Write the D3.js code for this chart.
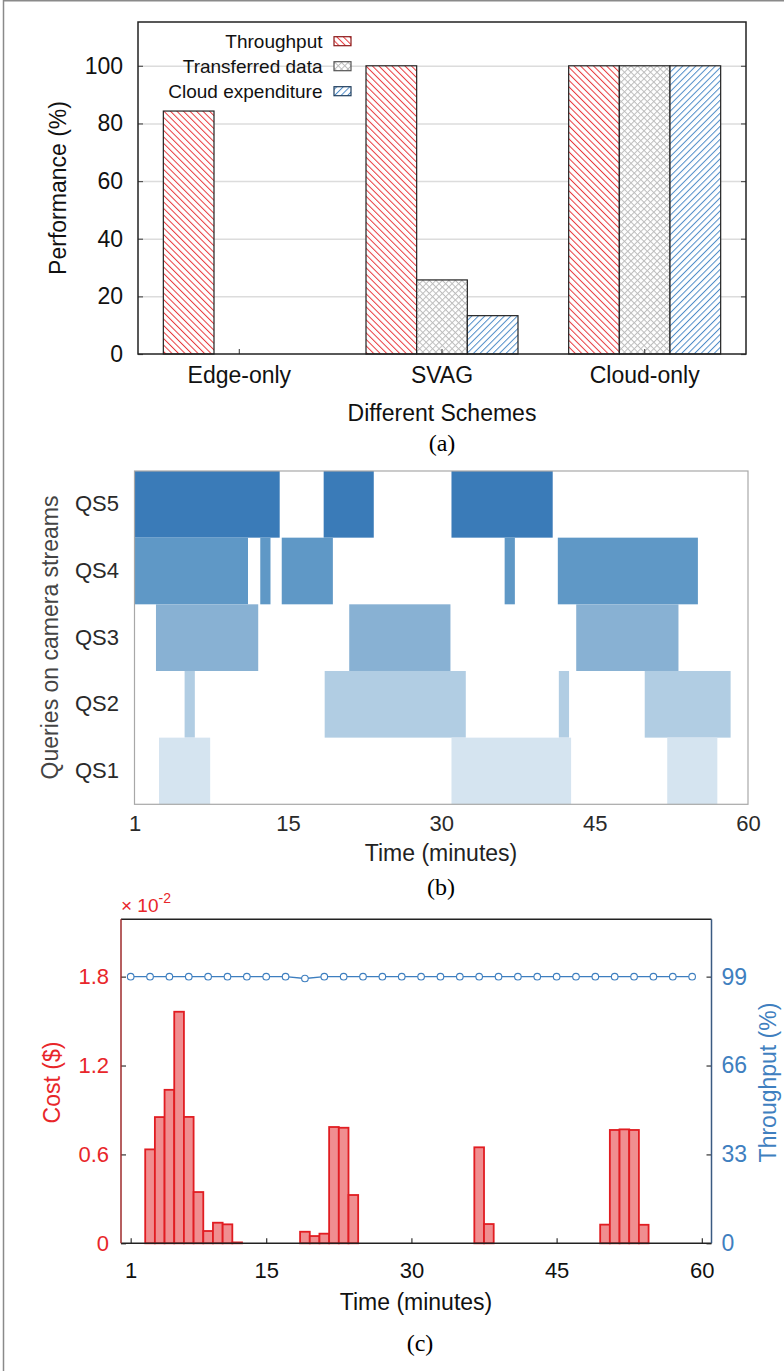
<!DOCTYPE html>
<html>
<head>
<meta charset="utf-8">
<script src="https://d3js.org/d3.v7.min.js"></script>
<style>
  html, body { margin: 0; padding: 0; background: #fff; }
  svg { display: block; font-family: "Liberation Sans", Arial, Helvetica, sans-serif; }
  .cap { font-family: "Liberation Serif", "Times New Roman", serif; }
</style>
</head>
<body>
<svg id="fig" width="784" height="1371"></svg>
<script>
// ---------- data (a) ----------
var schemes = ["Edge-only", "SVAG", "Cloud-only"];
var metrics = ["Throughput", "Transferred data", "Cloud expenditure"];
var throughputPct = [84.3, 100, 100];
var transferredPct = [0, 25.7, 100];
var cloudExpPct = [0, 13.3, 100];
var perfTicks = [0, 20, 40, 60, 80, 100];

// ---------- data (b) : active spans in minutes ----------
var queryRows = ["QS5", "QS4", "QS3", "QS2", "QS1"];
var qs5Spans = [[0, 14.2], [18.5, 23.4], [31, 40.9]];
var qs4Spans = [[0, 11.1], [12.3, 13.3], [14.4, 19.4], [36.2, 37.2], [41.4, 55.1]];
var qs3Spans = [[2.1, 12.1], [21, 30.9], [43.2, 53.2]];
var qs2Spans = [[4.9, 5.9], [18.6, 32.4], [41.5, 42.5], [49.9, 58.3]];
var qs1Spans = [[2.4, 7.4], [31, 42.7], [52.1, 57]];
var timeTickVals = [0, 15, 30, 45, 60];
var timeTickLabels = ["1", "15", "30", "45", "60"];

// ---------- data (c) ----------
var costMinutes = [3, 4, 5, 6, 7, 8, 9, 10, 11, 12, 19, 20, 21, 22, 23, 24, 37, 38, 50, 51, 52, 53, 54];
var costValues = [0.634, 0.852, 1.036, 1.563, 0.853, 0.346, 0.083, 0.139, 0.128, 0.006, 0.078, 0.049, 0.065, 0.785, 0.780, 0.326, 0.648, 0.130, 0.126, 0.765, 0.769, 0.765, 0.125];
var thrMinutes = [1, 3, 5, 7, 9, 11, 13, 15, 17, 19, 21, 23, 25, 27, 29, 31, 33, 35, 37, 39, 41, 43, 45, 47, 49, 51, 53, 55, 57, 59];
var thrValues = [99, 99, 99, 99, 99, 99, 99, 99, 99, 98.3, 99, 99, 99, 99, 99, 99, 99, 99, 99, 99, 99, 99, 99, 99, 99, 99, 99, 99, 99, 99];
var costTicks = [0, 0.6, 1.2, 1.8];
var thrTicks = [0, 33, 66, 99];
var minuteTicks = [1, 15, 30, 45, 60];

var svg = d3.select("#fig");
var RED = "#e8262a", BLUE = "#3f7fbf";

// figure border (left + top)
svg.append("line").attr("x1", 3.5).attr("x2", 3.5).attr("y1", 0).attr("y2", 1371).attr("stroke", "#8a8a8a").attr("stroke-width", 1.5);
svg.append("line").attr("x1", 3).attr("x2", 784).attr("y1", 0.75).attr("y2", 0.75).attr("stroke", "#8a8a8a").attr("stroke-width", 1.5);

// ---------- hatch patterns ----------
var defs = svg.append("defs");
function hatch(id, color, rot, cross) {
  var p = defs.append("pattern").attr("id", id).attr("patternUnits", "userSpaceOnUse")
    .attr("width", 4.6).attr("height", 4.6).attr("patternTransform", "rotate(" + rot + ")");
  p.append("rect").attr("width", 4.6).attr("height", 4.6).attr("fill", "#fff");
  p.append("line").attr("x1", 0.5).attr("x2", 0.5).attr("y1", 0).attr("y2", 4.6).attr("stroke", color).attr("stroke-width", 1);
  if (cross) p.append("line").attr("y1", 0.5).attr("y2", 0.5).attr("x1", 0).attr("x2", 4.6).attr("stroke", color).attr("stroke-width", 1);
}
hatch("hRed", "#e83a3e", -45, false);
hatch("hGray", "#bdbdbd", 45, true);
hatch("hBlue", "#4f8cc8", 45, false);
var fills = ["url(#hRed)", "url(#hGray)", "url(#hBlue)"];
var legendStroke = ["#8b1a1a", "#555", "#1f3d5c"];

// ---------- panel (a) ----------
(function () {
  var L = 138, R = 746, T = 22, B = 354;
  var x = d3.scaleBand().domain(schemes).range([L, R]).padding(0);
  var xs = d3.scaleBand().domain(metrics).range([0, x.bandwidth()]).paddingInner(0).paddingOuter(0.5);
  var y = d3.scaleLinear().domain([0, 115.2]).range([B, T]);
  var g = svg.append("g");

  // grid
  var grid = g.append("g").attr("transform", "translate(" + L + ",0)")
    .call(d3.axisLeft(y).tickValues(perfTicks.slice(1)).tickSize(-(R - L)).tickFormat(""));
  grid.select(".domain").remove();
  grid.selectAll("line").attr("stroke", "#dcdcdc").attr("stroke-width", 1.5);

  var series = [throughputPct, transferredPct, cloudExpPct];
  var rows = [];
  schemes.forEach(function (s, i) {
    metrics.forEach(function (m, j) { if (series[j][i] > 0) rows.push({ s: s, m: m, j: j, v: series[j][i] }); });
  });
  g.selectAll("rect.bar").data(rows).enter().append("rect").attr("class", "bar")
    .attr("x", function (d) { return x(d.s) + xs(d.m); })
    .attr("width", xs.bandwidth())
    .attr("y", function (d) { return y(d.v); })
    .attr("height", function (d) { return y(0) - y(d.v); })
    .attr("fill", function (d) { return fills[d.j]; })
    .attr("stroke", "#222").attr("stroke-width", 1.2);

  // axes
  var ax = g.append("g").attr("transform", "translate(" + L + ",0)")
    .call(d3.axisLeft(y).tickValues(perfTicks).tickSizeInner(-5).tickSizeOuter(0).tickPadding(15));
  var ar = g.append("g").attr("transform", "translate(" + R + ",0)")
    .call(d3.axisRight(y).tickValues(perfTicks).tickSizeInner(-5).tickSizeOuter(0).tickFormat(""));
  var ab = g.append("g").attr("transform", "translate(0," + B + ")")
    .call(d3.axisBottom(x).tickSizeInner(-5).tickSizeOuter(0).tickPadding(13));
  [ax, ar, ab].forEach(function (a) {
    a.select(".domain").remove();
    a.selectAll("line").attr("stroke", "#555").attr("stroke-width", 1.2);
    a.selectAll("text").attr("font-size", 23).attr("fill", "#111").attr("font-family", null);
  });
  g.append("rect").attr("x", L).attr("y", T).attr("width", R - L).attr("height", B - T)
    .attr("fill", "none").attr("stroke", "#222").attr("stroke-width", 1.5);

  // legend
  metrics.forEach(function (m, j) {
    var cy = 41.2 + j * 25;
    g.append("text").attr("x", 322.5).attr("y", cy + 7).attr("text-anchor", "end").attr("font-size", 19).attr("fill", "#111").text(m);
    g.append("rect").attr("x", 334).attr("y", cy - 4.5).attr("width", 17).attr("height", 9)
      .attr("fill", fills[j]).attr("stroke", legendStroke[j]).attr("stroke-width", 1.2);
  });

  g.append("text").attr("transform", "translate(57.5,188) rotate(-90)").attr("dy", "0.35em")
    .attr("text-anchor", "middle").attr("font-size", 23).attr("fill", "#111").text("Performance (%)");
  g.append("text").attr("x", 442).attr("y", 420.5).attr("text-anchor", "middle").attr("font-size", 23).attr("fill", "#111").text("Different Schemes");
  g.append("text").attr("class", "cap").attr("x", 442).attr("y", 451).attr("text-anchor", "middle").attr("font-size", 24).text("(a)");
})();

// ---------- panel (b) ----------
(function () {
  var L = 134.5, R = 748, T = 471, B = 804.3;
  var x = d3.scaleLinear().domain([0, 60]).range([L, R]);
  var y = d3.scaleBand().domain(queryRows).range([T, B]);
  var spans = { QS5: qs5Spans, QS4: qs4Spans, QS3: qs3Spans, QS2: qs2Spans, QS1: qs1Spans };
  var colors = { QS5: "#3a7bb8", QS4: "#5f98c6", QS3: "#88b1d3", QS2: "#b1cde3", QS1: "#d5e4f0" };
  var g = svg.append("g");
  queryRows.forEach(function (q) {
    g.selectAll(null).data(spans[q]).enter().append("rect")
      .attr("x", function (d) { return x(d[0]); })
      .attr("width", function (d) { return x(d[1]) - x(d[0]); })
      .attr("y", y(q)).attr("height", y.bandwidth())
      .attr("fill", colors[q]);
  });
  g.append("rect").attr("x", L).attr("y", T).attr("width", R - L).attr("height", B - T)
    .attr("fill", "none").attr("stroke", "#a8a8a8").attr("stroke-width", 1.2);

  var ay = g.append("g").attr("transform", "translate(" + L + ",0)")
    .call(d3.axisLeft(y).tickSize(0).tickPadding(15.5));
  var ab = g.append("g").attr("transform", "translate(0," + B + ")")
    .call(d3.axisBottom(x).tickValues(timeTickVals).tickSize(0).tickPadding(11)
      .tickFormat(function (d, i) { return timeTickLabels[i]; }));
  [ay, ab].forEach(function (a) {
    a.select(".domain").remove();
    a.selectAll("text").attr("font-size", 22).attr("fill", "#2a2a2a").attr("font-family", null);
  });
  g.append("text").attr("transform", "translate(50,637.5) rotate(-90)").attr("dy", "0.35em")
    .attr("text-anchor", "middle").attr("font-size", 23).attr("fill", "#444").text("Queries on camera streams");
  g.append("text").attr("x", 441).attr("y", 861).attr("text-anchor", "middle").attr("font-size", 23).attr("fill", "#222").text("Time (minutes)");
  g.append("text").attr("class", "cap").attr("x", 441).attr("y", 895).attr("text-anchor", "middle").attr("font-size", 24).text("(b)");
})();

// ---------- panel (c) ----------
(function () {
  var L = 121, R = 711.5, T = 919.3, B = 1243.3;
  var x = d3.scaleLinear().domain([0, 61]).range([L, R]);
  var y = d3.scaleLinear().domain([0, 2.187]).range([B, T]);
  var yt = d3.scaleLinear().domain([0, 2.187 * 55]).range([B, T]);
  var g = svg.append("g");

  var bars = costMinutes.map(function (t, i) { return { t: t, v: costValues[i] }; });
  g.selectAll("rect.cb").data(bars).enter().append("rect").attr("class", "cb")
    .attr("x", function (d) { return x(d.t - 0.5); })
    .attr("width", function (d) { return x(d.t + 0.5) - x(d.t - 0.5); })
    .attr("y", function (d) { return y(d.v); })
    .attr("height", function (d) { return y(0) - y(d.v); })
    .attr("fill", "#f08e90").attr("stroke", "#e11d22").attr("stroke-width", 1.8);

  var pts = thrMinutes.map(function (t, i) { return { t: t, v: thrValues[i] }; });
  g.append("path").datum(pts)
    .attr("d", d3.line().x(function (d) { return x(d.t); }).y(function (d) { return yt(d.v); }))
    .attr("fill", "none").attr("stroke", "#3d7ebf").attr("stroke-width", 1.4);
  g.selectAll("circle").data(pts).enter().append("circle")
    .attr("cx", function (d) { return x(d.t); }).attr("cy", function (d) { return yt(d.v); })
    .attr("r", 3.3).attr("fill", "#fff").attr("stroke", "#3d7ebf").attr("stroke-width", 1.1);

  var al = g.append("g").attr("transform", "translate(" + L + ",0)")
    .call(d3.axisLeft(y).tickValues(costTicks).tickSizeInner(-5).tickSizeOuter(0).tickPadding(12)
      .tickFormat(function (d) { return d === 0 ? "0" : d3.format(".1f")(d); }));
  var ar = g.append("g").attr("transform", "translate(" + R + ",0)")
    .call(d3.axisRight(yt).tickValues(thrTicks).tickSizeInner(-5).tickSizeOuter(0).tickPadding(10));
  var ab = g.append("g").attr("transform", "translate(0," + B + ")")
    .call(d3.axisBottom(x).tickValues(minuteTicks).tickSizeInner(-5).tickSizeOuter(0).tickPadding(19));
  [al, ar, ab].forEach(function (a) {
    a.select(".domain").remove();
    a.selectAll("line").attr("stroke", "#333").attr("stroke-width", 1.2);
    a.selectAll("text").attr("font-family", null);
  });
  al.selectAll("text").attr("font-size", 22).attr("fill", RED);
  ar.selectAll("text").attr("font-size", 23).attr("fill", BLUE);
  ab.selectAll("text").attr("font-size", 22).attr("fill", "#111");

  // spines
  g.append("line").attr("x1", L).attr("x2", R).attr("y1", T).attr("y2", T).attr("stroke", "#222").attr("stroke-width", 1.5);
  g.append("line").attr("x1", L).attr("x2", R).attr("y1", B).attr("y2", B).attr("stroke", "#222").attr("stroke-width", 1.5);
  g.append("line").attr("x1", L).attr("x2", L).attr("y1", T).attr("y2", B).attr("stroke", "#9e2a2b").attr("stroke-width", 1.5);
  g.append("line").attr("x1", R).attr("x2", R).attr("y1", T).attr("y2", B).attr("stroke", "#3a5a82").attr("stroke-width", 1.5);

  var ex = g.append("text").attr("x", 121).attr("y", 911.7).attr("font-size", 19).attr("fill", RED);
  ex.append("tspan").text("\u00d7 10");
  ex.append("tspan").attr("dy", -9).attr("font-size", 14).text("-2");

  g.append("text").attr("transform", "translate(51.7,1082.5) rotate(-90)").attr("dy", "0.35em")
    .attr("text-anchor", "middle").attr("font-size", 23).attr("fill", RED).text("Cost ($)");
  g.append("text").attr("transform", "translate(767.5,1082.5) rotate(-90)").attr("dy", "0.35em")
    .attr("text-anchor", "middle").attr("font-size", 23).attr("fill", BLUE).text("Throughput (%)");
  g.append("text").attr("x", 416).attr("y", 1310).attr("text-anchor", "middle").attr("font-size", 23).attr("fill", "#111").text("Time (minutes)");
  g.append("text").attr("class", "cap").attr("x", 420).attr("y", 1351).attr("text-anchor", "middle").attr("font-size", 24).text("(c)");
})();
</script>
</body>
</html>
